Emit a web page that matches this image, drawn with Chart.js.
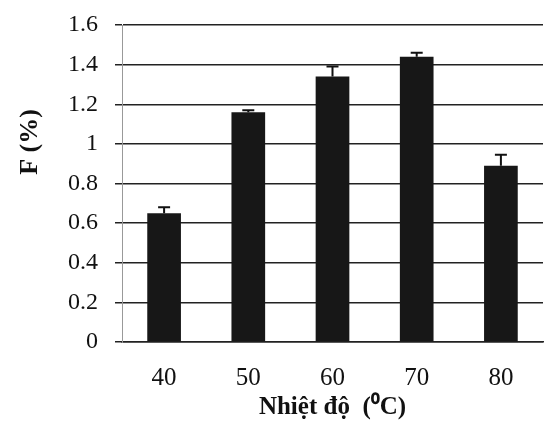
<!DOCTYPE html>
<html>
<head>
<meta charset="utf-8">
<script src="https://cdn.jsdelivr.net/npm/chart.js@4"></script>
<style>
  html, body { margin: 0; padding: 0; background: #fff; }
  #wrap { width: 549px; height: 423px; }
</style>
</head>
<body>
<div id="wrap"><canvas id="chart" width="549" height="423"></canvas></div>
<script>
const temps = ['40', '50', '60', '70', '80'];
const fValues = [0.65, 1.16, 1.34, 1.44, 0.89];
const fErrors = [0.03, 0.01, 0.05, 0.02, 0.055];
const yTicks = [0, 0.2, 0.4, 0.6, 0.8, 1, 1.2, 1.4, 1.6];
const yTitle = 'F (%)';

// draws the upper error whisker with a cap over each bar
const errorBars = {
    id: 'errorBars',
    afterDatasetsDraw(chart) {
        const ctx = chart.ctx;
        const y = chart.scales.y;
        const meta = chart.getDatasetMeta(0);
        ctx.save();
        ctx.strokeStyle = '#111';
        ctx.lineWidth = 2;
        meta.data.forEach((bar, i) => {
            const top = y.getPixelForValue(fValues[i] + fErrors[i]);
            const base = y.getPixelForValue(fValues[i]);
            ctx.beginPath();
            ctx.moveTo(bar.x, base);
            ctx.lineTo(bar.x, top);
            ctx.moveTo(bar.x - 6, top);
            ctx.lineTo(bar.x + 6, top);
            ctx.stroke();
        });
        ctx.restore();
    }
};

// y title sits higher than the axis centre in the original
const yAxisTitle = {
    id: 'yAxisTitle',
    afterDraw(chart) {
        const ctx = chart.ctx;
        ctx.save();
        ctx.translate(30, 142);
        ctx.rotate(-Math.PI / 2);
        ctx.font = 'bold 26px "Liberation Serif"';
        ctx.fillStyle = '#111';
        ctx.textAlign = 'center';
        ctx.textBaseline = 'middle';
        ctx.fillText(yTitle, 0, 0);
        ctx.restore();
    }
};

const cfg = {
    type: 'bar',
    data: {
        labels: temps,
        datasets: [{
            data: fValues,
            backgroundColor: '#171717',
            barPercentage: 0.4,
            categoryPercentage: 1
        }]
    },
    options: {
        responsive: false,
        animation: false,
        layout: { padding: { top: 25, right: 6 } },
        plugins: { legend: { display: false }, tooltip: { enabled: false } },
        scales: {
            x: {
                grid: { display: false },
                border: { color: '#222', width: 1.5 },
                ticks: { color: '#111', font: { family: 'Liberation Serif', size: 25 }, padding: 13 },
                title: {
                    display: true,
                    text: 'Nhiệt độ  (⁰C)',
                    color: '#111',
                    font: { family: 'Liberation Serif', size: 25, weight: 'bold' },
                    padding: { top: -2, bottom: 0 }
                },
                afterFit(axis) { axis.height = 81; }
            },
            y: {
                min: 0,
                max: 1.6,
                afterBuildTicks(axis) { axis.ticks = yTicks.map(v => ({ value: v })); },
                grid: { color: '#222', lineWidth: 1.5, tickLength: 7 },
                border: { color: '#999', width: 1 },
                ticks: {
                    color: '#111',
                    font: { family: 'Liberation Serif', size: 24 },
                    padding: 17,
                    callback: v => String(Math.round(v * 10) / 10)
                },
                afterFit(axis) {
                    axis.width = 122;
                    axis.paddingTop = 0;
                    axis.paddingBottom = 0;
                }
            }
        }
    },
    plugins: [errorBars, yAxisTitle]
};

const canvas = document.getElementById('chart');
const myBarChart = new Chart(canvas, cfg);
</script>
</body>
</html>
